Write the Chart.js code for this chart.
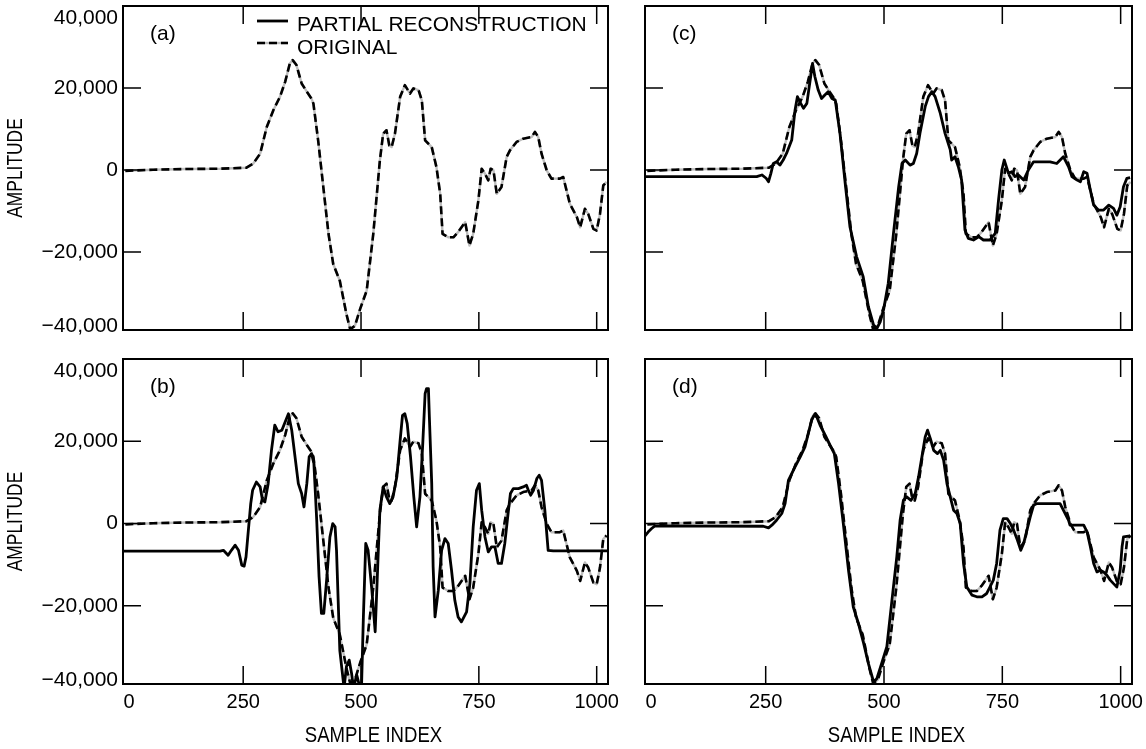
<!DOCTYPE html>
<html lang="en">
<head>
<meta charset="UTF-8" />
<title>Partial reconstruction</title>
<style>
  body { margin: 0; background: #fff; }
  #wrap { position: relative; width: 1146px; height: 749px; background: #fff; }
  canvas { position: absolute; }
</style>
</head>
<body>
<div id="wrap">
  <canvas id="panelA" width="626" height="345" style="left:0;top:0;width:626px;height:345px"></canvas>
  <canvas id="panelC" width="520" height="345" style="left:626px;top:0;width:520px;height:345px"></canvas>
  <canvas id="panelB" width="626" height="404" style="left:0;top:345px;width:626px;height:404px"></canvas>
  <canvas id="panelD" width="520" height="404" style="left:626px;top:345px;width:520px;height:404px"></canvas>
</div>
<script src="https://cdn.jsdelivr.net/npm/chart.js@4.4.1/dist/chart.umd.min.js"></script>
<script>
// tick labels
const xTickLabels = [0, 250, 500, 750, 1000];
const yTickLabels = [40000, 20000, 0, -20000, -40000];

// original signal (same in every panel)
const originalIdx = [0, 59, 130, 201, 257, 271, 286, 300, 314, 328, 339, 349, 355, 363, 374, 385, 395, 399, 409, 420, 431, 441, 455, 469, 477, 487, 498, 512, 526, 540, 547, 554, 560, 565, 572, 583, 593, 604, 611, 622, 629, 636, 650, 660, 668, 673, 685, 696, 706, 721, 730, 738, 749, 756, 763, 770, 775, 781, 788, 798, 809, 816, 830, 844, 862, 869, 876, 883, 894, 904, 922, 929, 936, 943, 958, 965, 975, 982, 993, 1000, 1007, 1014, 1021];
const originalAmp = [-200, 80, 250, 330, 570, 1550, 4000, 10500, 14600, 17850, 21500, 26000, 26800, 25600, 21100, 19100, 17400, 16200, 7250, -4150, -15550, -22900, -27000, -35100, -38800, -38000, -33900, -29400, -15550, 2350, 8900, 9700, 6000, 5600, 8900, 17850, 20700, 18650, 19900, 19500, 17000, 7250, 5600, 730, -5800, -15550, -16400, -16400, -15150, -12700, -18400, -15550, -7400, 330, -900, -2500, 330, -80, -5800, -4150, 3200, 4800, 6850, 7650, 8050, 9300, 8050, 4000, -80, -2100, -2100, -1700, -4950, -8200, -11500, -13950, -9450, -10700, -14350, -14750, -10700, -3750, -2900];

// partial reconstruction (b)
const reconBIdx = [-5, 201, 208, 213, 218, 225, 233, 240, 247, 252, 256, 261, 266, 270, 278, 286, 291, 296, 303, 310, 317, 324, 332, 339, 346, 353, 360, 367, 374, 379, 385, 390, 395, 400, 406, 411, 416, 421, 427, 434, 440, 445, 448, 455, 464, 469, 475, 480, 484, 491, 498, 501, 505, 510, 515, 523, 530, 534, 540, 547, 554, 561, 568, 576, 583, 588, 593, 598, 605, 612, 618, 625, 631, 636, 639, 643, 645, 650, 653, 657, 664, 671, 678, 685, 692, 699, 706, 713, 724, 731, 738, 745, 751, 756, 763, 770, 777, 784, 791, 798, 805, 812, 817, 823, 834, 844, 851, 855, 860, 866, 873, 878, 883, 890, 897, 908, 1024];
const reconBAmp = [-6700, -6700, -6500, -7100, -7700, -6500, -5250, -6500, -10100, -10350, -8100, -1600, 4850, 8100, 10100, 8900, 5650, 5250, 9700, 17800, 23900, 22300, 22700, 24700, 26700, 22700, 16200, 9700, 7300, 4050, 9700, 16200, 17000, 14600, 800, -12950, -21850, -21850, -13750, -3250, 0, -800, -6500, -30800, -40000, -34800, -33200, -36450, -40000, -36850, -40000, -40000, -22700, -4850, -6500, -16200, -26300, -14600, 3250, 8900, 6500, 4850, 6500, 11350, 20250, 26300, 26700, 24300, 16200, 6500, -800, 6500, 19450, 31600, 32800, 32800, 25900, 9700, -10500, -22700, -16200, -6500, -3650, -4850, -11350, -18650, -22700, -23900, -21450, -14600, -800, 8100, 9700, 3250, -3250, -6900, -5650, -5650, -9700, -9700, -4850, 2450, 7300, 8500, 8500, 8900, 9300, 8100, 6900, 8100, 10950, 11750, 10500, 3250, -6500, -6650, -6650];

// partial reconstruction (c)
const reconCIdx = [-5, 231, 242, 251, 256, 261, 266, 273, 280, 287, 294, 305, 312, 317, 324, 330, 337, 340, 345, 349, 354, 361, 368, 375, 382, 390, 397, 407, 418, 428, 442, 456, 467, 478, 485, 492, 499, 509, 520, 531, 538, 545, 555, 562, 569, 576, 587, 594, 601, 608, 619, 629, 640, 643, 650, 657, 664, 671, 678, 689, 700, 710, 724, 735, 742, 749, 754, 763, 770, 777, 784, 795, 805, 816, 830, 851, 865, 879, 890, 897, 908, 915, 922, 929, 936, 943, 953, 964, 975, 985, 992, 999, 1006, 1013, 1020];
const reconCAmp = [-1600, -1600, -1200, -2000, -2850, -800, 1600, 2000, 1200, 2450, 4050, 7300, 14600, 17900, 16250, 15050, 16250, 18700, 22750, 26000, 22750, 19500, 17450, 18300, 19100, 17450, 17050, 8950, -3250, -13800, -21100, -26000, -33300, -37800, -38600, -37000, -34100, -27600, -15450, -4050, 1600, 2450, 1200, 1600, 4050, 8950, 15450, 17900, 19100, 17900, 13800, 8950, 4900, 2450, 3250, 800, -2450, -14600, -16650, -17050, -16250, -17050, -17050, -15450, -7300, 0, 2450, -800, -400, -1600, -1200, -2450, 0, 2000, 2000, 2000, 1600, 3250, 800, -1600, -2450, -2850, -400, -800, -4900, -8550, -9750, -9750, -8550, -9350, -11000, -8950, -4050, -2050, -1850];

// partial reconstruction (d)
const reconDIdx = [-5, 2, 9, 16, 245, 256, 263, 273, 284, 291, 298, 305, 312, 323, 333, 340, 347, 352, 358, 365, 376, 386, 395, 404, 414, 425, 435, 446, 457, 467, 478, 485, 495, 506, 516, 527, 534, 541, 548, 557, 566, 573, 580, 587, 592, 598, 605, 613, 619, 626, 633, 640, 647, 654, 661, 668, 675, 686, 696, 707, 717, 724, 731, 738, 745, 752, 760, 767, 774, 782, 789, 795, 802, 809, 816, 823, 872, 879, 890, 893, 922, 929, 936, 943, 950, 957, 964, 971, 978, 985, 992, 999, 1003, 1006, 1020];
const reconDAmp = [-3000, -2000, -1200, -550, -650, -1050, -400, 800, 2450, 4850, 10500, 12150, 13750, 16200, 18650, 21850, 25100, 26300, 25900, 23900, 21450, 19050, 17000, 9700, 0, -11350, -20250, -24300, -29150, -34000, -38500, -37650, -34000, -29950, -19450, -8100, 800, 5650, 6500, 5650, 7300, 11350, 16200, 21050, 22700, 20650, 17800, 17000, 17800, 15400, 9700, 6500, 3250, 2450, 0, -9700, -15400, -17400, -17800, -17800, -17000, -15400, -13750, -9700, -1600, 1200, 1200, 0, -1600, -4050, -6500, -4850, -1600, 1600, 4450, 4850, 4850, 3250, 800, -400, -400, -2000, -5650, -9700, -11750, -11350, -11750, -12550, -13750, -14600, -15400, -11350, -5650, -3250, -3000];

const FONT = '"Liberation Sans", Arial, Helvetica, sans-serif';
const DASH = [8, 4];

function pts(xs, ys) {
  return xs.map((x, i) => ({ x: x, y: ys[i] }));
}

// amplitude labels get a thousands comma and a real minus sign
function fmtAmp(v) {
  return v.toLocaleString('en-US').replace('-', '\u2212');
}

// squeezed text for the axis titles
function narrowText(ctx, text, x, y, rot, sx) {
  ctx.save();
  ctx.translate(x, y);
  if (rot) ctx.rotate(-Math.PI / 2);
  ctx.scale(sx, 1);
  ctx.textAlign = 'center';
  ctx.textBaseline = 'middle';
  ctx.fillText(text, 0, 0);
  ctx.restore();
}

// box, inward ticks, labels
const framePlugin = {
  id: 'frame',
  afterDraw(chart, args, opts) {
    const { ctx, chartArea: a } = chart;
    const x = chart.scales.x, y = chart.scales.y;
    ctx.save();
    ctx.strokeStyle = '#000';
    ctx.fillStyle = '#000';

    ctx.lineWidth = 1.5;
    ctx.beginPath();
    xTickLabels.forEach(v => {
      const px = x.getPixelForValue(v);
      if (px <= a.left + 4 || px >= a.right - 4) return;
      ctx.moveTo(px, a.top); ctx.lineTo(px, a.top + 18);
      ctx.moveTo(px, a.bottom); ctx.lineTo(px, a.bottom - 18);
    });
    yTickLabels.forEach(v => {
      const py = y.getPixelForValue(v);
      if (py <= a.top + 4 || py >= a.bottom - 4) return;
      ctx.moveTo(a.left, py); ctx.lineTo(a.left + 18, py);
      ctx.moveTo(a.right, py); ctx.lineTo(a.right - 18, py);
    });
    ctx.stroke();

    ctx.lineWidth = 2;
    ctx.strokeRect(a.left, a.top, a.right - a.left, a.bottom - a.top);

    if (opts.yLabels) {
      ctx.font = '21px ' + FONT;
      ctx.textAlign = 'right';
      ctx.textBaseline = 'middle';
      yTickLabels.forEach(v => {
        let py = y.getPixelForValue(v);
        py = Math.min(Math.max(py, a.top + 12), a.bottom - 4);
        ctx.fillText(fmtAmp(v), a.left - 5, py);
      });
      ctx.font = '22px ' + FONT;
      narrowText(ctx, 'AMPLITUDE', 16, (a.top + a.bottom) / 2, true, 0.79);
    }
    if (opts.xLabels) {
      ctx.font = '20px ' + FONT;
      ctx.textAlign = 'center';
      ctx.textBaseline = 'middle';
      xTickLabels.forEach(v => {
        const px = Math.max(x.getPixelForValue(v), a.left + 6);
        ctx.fillText(String(v), px, a.bottom + 18);
      });
      ctx.font = '22px ' + FONT;
      narrowText(ctx, 'SAMPLE INDEX', (a.left + a.right) / 2 + 8, a.bottom + 52, false, 0.845);
    }

    ctx.font = '21px ' + FONT;
    ctx.textAlign = 'left';
    ctx.textBaseline = 'middle';
    ctx.fillText(opts.tag, a.left + 27, a.top + 28);

    if (opts.legend) {
      const lx = 257, lw = 31;
      ctx.lineWidth = 2.8;
      ctx.beginPath(); ctx.moveTo(lx, 21); ctx.lineTo(lx + lw, 21); ctx.stroke();
      ctx.strokeStyle = '#bdbdbd';
      ctx.lineWidth = 2.4;
      ctx.beginPath(); ctx.moveTo(lx, 43); ctx.lineTo(lx + lw, 43); ctx.stroke();
      ctx.strokeStyle = '#000';
      ctx.lineWidth = 2.6;
      ctx.setLineDash(DASH);
      ctx.beginPath(); ctx.moveTo(lx, 43); ctx.lineTo(lx + lw, 43); ctx.stroke();
      ctx.setLineDash([]);
      ctx.fillText('PARTIAL RECONSTRUCTION', 297, 25);
      ctx.fillText('ORIGINAL', 297, 48);
    }
    ctx.restore();
  }
};

function makePanel(id, recon, pad, opts) {
  const datasets = [];
  if (recon) {
    datasets.push({ label: 'PARTIAL RECONSTRUCTION', data: recon, borderColor: '#000', borderWidth: 2.8 });
  }
  datasets.push({ label: 'ORIGINAL', data: pts(originalIdx, originalAmp), borderColor: '#000', borderWidth: 2.6, borderDash: DASH });
  datasets.push({ label: 'ORIGINAL (under)', data: pts(originalIdx, originalAmp), borderColor: '#bdbdbd', borderWidth: 2.4 });

  return new Chart(document.getElementById(id), {
    type: 'line',
    data: { datasets: datasets },
    options: {
      responsive: false,
      animation: false,
      events: [],
      layout: { padding: pad },
      elements: {
        point: { radius: 0 },
        line: { tension: 0, fill: false, borderCapStyle: 'butt', borderJoinStyle: 'round' }
      },
      scales: {
        x: { type: 'linear', min: -5, max: 1024, display: false },
        y: { type: 'linear', min: -39000, max: 40000, display: false }
      },
      plugins: {
        legend: { display: false },
        tooltip: { enabled: false },
        frame: opts
      }
    },
    plugins: [framePlugin]
  });
}

makePanel('panelA', null, { left: 123, top: 6, right: 18, bottom: 15 },
  { tag: '(a)', yLabels: true, xLabels: false, legend: true });
makePanel('panelC', pts(reconCIdx, reconCAmp), { left: 19, top: 6, right: 14, bottom: 15 },
  { tag: '(c)', yLabels: false, xLabels: false, legend: false });
makePanel('panelB', pts(reconBIdx, reconBAmp), { left: 123, top: 14, right: 18, bottom: 65 },
  { tag: '(b)', yLabels: true, xLabels: true, legend: false });
makePanel('panelD', pts(reconDIdx, reconDAmp), { left: 19, top: 14, right: 14, bottom: 65 },
  { tag: '(d)', yLabels: false, xLabels: true, legend: false });
</script>
</body>
</html>
